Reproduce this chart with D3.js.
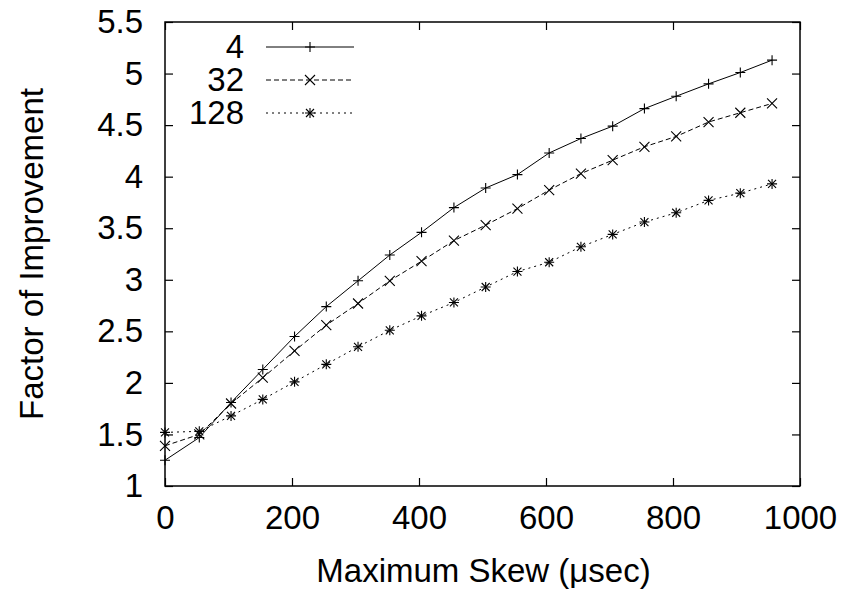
<!DOCTYPE html>
<html>
<head>
<meta charset="utf-8">
<script src="https://cdn.jsdelivr.net/npm/d3@7"></script>
<style>
  body { margin: 0; background: #fff; }
  svg { display: block; font-family: "Liberation Sans", Arial, sans-serif; }
</style>
</head>
<body>
<svg id="chart"></svg>
<script>
// data
const skew = [0, 54, 104, 154, 204, 254, 304, 354, 404, 455, 505, 555, 605, 655, 705, 755, 805, 856, 906, 956];
const series4 = [1.25, 1.47, 1.81, 2.13, 2.45, 2.74, 2.99, 3.24, 3.46, 3.70, 3.89, 4.02, 4.23, 4.37, 4.49, 4.66, 4.78, 4.90, 5.01, 5.13];
const series32 = [1.39, 1.50, 1.80, 2.05, 2.31, 2.56, 2.77, 2.99, 3.18, 3.38, 3.53, 3.69, 3.87, 4.03, 4.16, 4.29, 4.39, 4.53, 4.62, 4.71];
const series128 = [1.52, 1.53, 1.68, 1.84, 2.01, 2.18, 2.35, 2.51, 2.65, 2.78, 2.93, 3.08, 3.17, 3.32, 3.44, 3.56, 3.65, 3.77, 3.84, 3.93];
const seriesNames = ['4', '32', '128'];
const xTicks = [0, 200, 400, 600, 800, 1000];
const yTicks = [1, 1.5, 2, 2.5, 3, 3.5, 4, 4.5, 5, 5.5];

const width = 847, height = 590;
const margin = { top: 22, right: 47, bottom: 104, left: 165 };
const innerW = width - margin.left - margin.right;
const innerH = height - margin.top - margin.bottom;
const fs = 33;

const svg = d3.select('#chart').attr('width', width).attr('height', height);
const chart = svg.append('g').attr('transform', `translate(${margin.left},${margin.top})`);

const x = d3.scaleLinear().domain([0, 1000]).range([0, innerW]);
const y = d3.scaleLinear().domain([1, 5.5]).range([innerH, 0]);

// ticks on all four sides, pointing in
const tl = 8;
chart.append('g').attr('transform', `translate(0,${innerH})`)
    .call(d3.axisBottom(x).tickValues(xTicks).tickSize(-tl).tickPadding(20).tickFormat(d3.format('d')));
chart.append('g')
    .call(d3.axisTop(x).tickValues(xTicks).tickSize(-tl).tickFormat(''));
chart.append('g')
    .call(d3.axisLeft(y).tickValues(yTicks).tickSize(-tl).tickPadding(22).tickFormat(d => d));
chart.append('g').attr('transform', `translate(${innerW},0)`)
    .call(d3.axisRight(y).tickValues(yTicks).tickSize(-tl).tickFormat(''));

chart.selectAll('.domain').remove();
chart.selectAll('.tick line').attr('stroke', '#000').attr('stroke-width', 1.2);
chart.selectAll('.tick text').attr('font-size', fs).attr('fill', '#000')
    .style('font-family', '"Liberation Sans", Arial, sans-serif');

chart.append('rect')
    .attr('width', innerW).attr('height', innerH)
    .attr('fill', 'none').attr('stroke', '#000').attr('stroke-width', 1.5);

// axis titles
svg.append('text')
    .attr('x', margin.left + innerW / 2 + 1).attr('y', 582)
    .attr('text-anchor', 'middle').attr('font-size', fs)
    .text('Maximum Skew (μsec)');
svg.append('text')
    .attr('transform', `translate(43,${margin.top + innerH / 2}) rotate(-90)`)
    .attr('text-anchor', 'middle').attr('font-size', fs)
    .text('Factor of Improvement');

// markers
function plus(g, s) {
    g.append('path').attr('d', `M${-s},0H${s}M0,${-s}V${s}`);
}
function cross(g, s) {
    g.append('path').attr('d', `M${-s},${-s}L${s},${s}M${-s},${s}L${s},${-s}`);
}
function star(g, s) { plus(g, s); cross(g, s * 0.8); }

const defs = [
    { name: seriesNames[0], values: series4, dash: null, marker: plus },
    { name: seriesNames[1], values: series32, dash: '5,3', marker: cross },
    { name: seriesNames[2], values: series128, dash: '2,4', marker: star }
];

const line = d3.line().x(d => x(d[0])).y(d => y(d[1]));

defs.forEach((s, i) => {
    const pts = skew.map((k, j) => [k, s.values[j]]);
    chart.append('path')
        .datum(pts)
        .attr('d', line)
        .attr('fill', 'none')
        .attr('stroke', '#000')
        .attr('stroke-width', 1)
        .attr('stroke-dasharray', s.dash);
    pts.forEach(p => {
        const g = chart.append('g')
            .attr('transform', `translate(${x(p[0])},${y(p[1])})`)
            .attr('stroke', '#000').attr('stroke-width', 1.1).attr('fill', 'none');
        s.marker(g, 5);
    });

    // legend row
    const ly = 47 + i * 33;
    svg.append('text')
        .attr('x', 244).attr('y', ly + 11)
        .attr('text-anchor', 'end').attr('font-size', fs)
        .text(s.name);
    svg.append('line')
        .attr('x1', 266).attr('x2', 354).attr('y1', ly).attr('y2', ly)
        .attr('stroke', '#000').attr('stroke-width', 1)
        .attr('stroke-dasharray', s.dash);
    const mg = svg.append('g')
        .attr('transform', `translate(310,${ly})`)
        .attr('stroke', '#000').attr('stroke-width', 1.1).attr('fill', 'none');
    s.marker(mg, 5);
});
</script>
</body>
</html>
